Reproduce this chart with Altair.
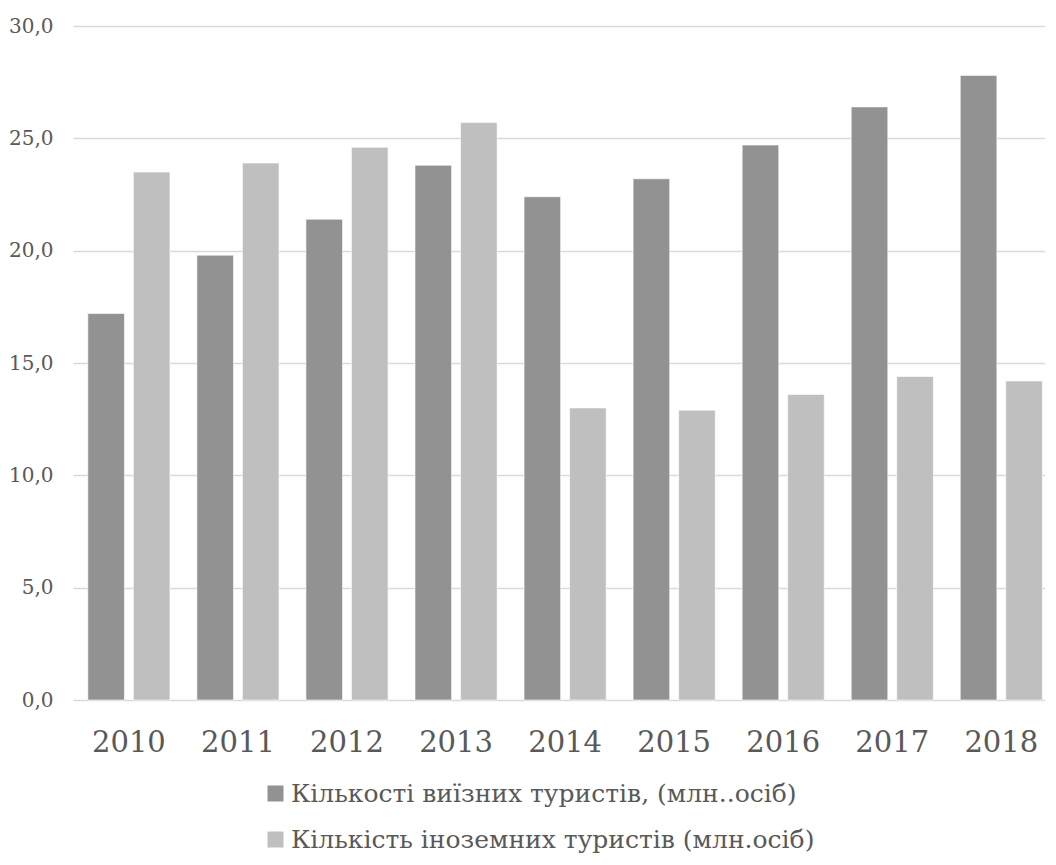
import altair as alt
import pandas as pd

years = ["2010", "2011", "2012", "2013", "2014", "2015", "2016", "2017", "2018"]
outbound = [17.2, 19.8, 21.4, 23.8, 22.4, 23.2, 24.7, 26.4, 27.8]
inbound = [23.5, 23.9, 24.6, 25.7, 13.0, 12.9, 13.6, 14.4, 14.2]
series_names = [
    "Кількості виїзних туристів, (млн..осіб)",
    "Кількість іноземних туристів (млн.осіб)",
]
colors = ["#929292", "#bfbfbf"]
y_ticks = [0, 5, 10, 15, 20, 25, 30]

rows = []
for i, yr in enumerate(years):
    rows.append({"year": yr, "series": series_names[0], "value": outbound[i]})
    rows.append({"year": yr, "series": series_names[1], "value": inbound[i]})
df = pd.DataFrame(rows)

FONT = "DejaVu Serif"
TXT = "#595959"

chart = (
    alt.Chart(df)
    .mark_bar(stroke="#ffffff", strokeWidth=1, strokeOpacity=0.6)
    .encode(
        x=alt.X(
            "year:N",
            sort=years,
            scale=alt.Scale(paddingInner=0.247, paddingOuter=0.08, align=0.85),
            axis=alt.Axis(
                title=None,
                labelAngle=0,
                labelFont=FONT,
                labelFontSize=29,
                labelColor=TXT,
                labelPadding=28,
                ticks=False,
                domain=False,
                grid=False,
            ),
        ),
        xOffset=alt.XOffset(
            "series:N",
            sort=series_names,
            scale=alt.Scale(paddingInner=0.196, paddingOuter=0),
        ),
        y=alt.Y(
            "value:Q",
            scale=alt.Scale(domain=[0, 30], nice=False),
            axis=alt.Axis(
                title=None,
                values=y_ticks,
                labelExpr="replace(format(datum.value, '.1f'), '.', ',')",
                labelFont=FONT,
                labelFontSize=20,
                labelColor=TXT,
                labelPadding=20,
                ticks=False,
                domain=False,
                gridColor="#d9d9d9",
                gridWidth=1.5,
            ),
        ),
        color=alt.Color(
            "series:N",
            scale=alt.Scale(domain=series_names, range=colors),
            legend=alt.Legend(
                title=None,
                orient="none",
                legendX=190,
                legendY=755,
                direction="vertical",
                labelFont=FONT,
                labelFontSize=25,
                labelColor=TXT,
                labelLimit=1000,
                labelOffset=3,
                symbolType="square",
                symbolSize=256,
                symbolStrokeWidth=0,
                rowPadding=20,
                padding=0,
            ),
        ),
    )
    .properties(
        width=972,
        height=674,
        padding={"left": 0, "top": 8, "right": 0, "bottom": 0},
    )
    .configure(font=FONT)
    .configure_view(stroke=None)
)

chart.save("out.html", embed_options={"renderer": "svg", "actions": False})
